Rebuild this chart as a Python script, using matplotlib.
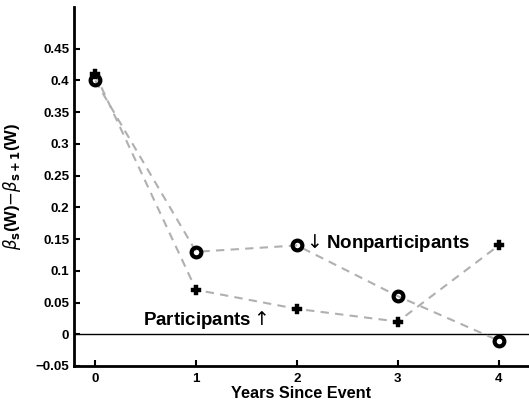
import matplotlib
matplotlib.use("Agg")
import matplotlib.pyplot as plt
import numpy as np

years = [0, 1, 2, 3, 4]
participants = [0.41, 0.07, 0.04, 0.02, 0.14]
nonparticipants = [0.40, 0.13, 0.14, 0.06, -0.01]
yticks = [-0.05, 0, 0.05, 0.1, 0.15, 0.2, 0.25, 0.3, 0.35, 0.4, 0.45]
ytick_labels = ["\u22120.05", "0", "0.05", "0.1", "0.15", "0.2", "0.25", "0.3", "0.35", "0.4", "0.45"]

plt.rcParams['font.family'] = ['Liberation Sans', 'DejaVu Sans']

fig = plt.figure(figsize=(5.29, 4.01), dpi=100)
ax = fig.add_axes([0.14, 0.0873, 0.86, 0.894])

ax.axhline(0, color='black', lw=1.0, zorder=1)
ax.plot(years, participants, ls='--', color='#b0b0b0', lw=1.5, dashes=(4, 3), zorder=2)
ax.plot(years, nonparticipants, ls='--', color='#b0b0b0', lw=1.5, dashes=(4, 3), zorder=2)
ax.plot(years, participants, ls='none', marker='P', ms=7.5, mfc='black', mec='black', mew=0.3, zorder=3)
ax.plot(years, nonparticipants, ls='none', marker='o', ms=7, mfc='none', mec='black', mew=3, zorder=4)

ax.text(2.06, 0.144, r"$\downarrow$Nonparticipants", fontsize=13.5, fontweight='bold', va='center', ha='left')
ax.text(1.71, 0.023, r"Participants$\uparrow$", fontsize=13.5, fontweight='bold', va='center', ha='right')

ax.set_xlim(-0.21, 4.3)
ax.set_ylim(-0.05, 0.515)
ax.set_xticks(years)
ax.set_yticks(yticks)
ax.set_yticklabels(ytick_labels)
for lbl in ax.get_xticklabels() + ax.get_yticklabels():
    lbl.set_fontweight('bold')
    lbl.set_fontsize(9.6)
ax.tick_params(direction='in', length=4, width=1.5)
ax.tick_params(axis='x', pad=5)

for s in ['top', 'right']:
    ax.spines[s].set_visible(False)
for s in ['left', 'bottom']:
    ax.spines[s].set_linewidth(2)

ax.set_xlabel("Years Since Event", fontsize=11.7, fontweight='bold', labelpad=1)
ax.set_ylabel(r"$\beta_{\mathbf{s}}$(W)$-\beta_{\mathbf{s+1}}$(W)", fontsize=12, fontweight='bold', labelpad=9)

fig.savefig("out.png", dpi=100)
